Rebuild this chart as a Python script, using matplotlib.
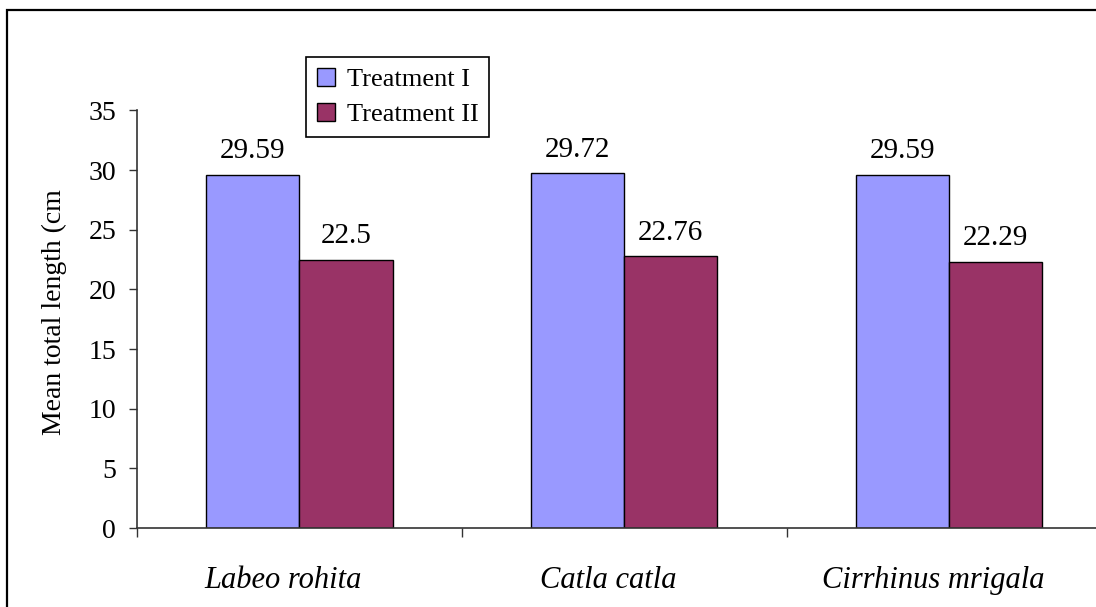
import matplotlib.pyplot as plt
import matplotlib.patches as patches
import matplotlib.transforms as mtransforms
import numpy as np

plt.rcParams['font.family'] = ['Liberation Serif', 'DejaVu Serif']

species = ['Labeo rohita', 'Catla catla', 'Cirrhinus mrigala']
treatment_1 = [29.59, 29.72, 29.59]
treatment_2 = [22.5, 22.76, 22.29]
value_text_1 = ['29.59', '29.72', '29.59']
value_text_2 = ['22.5', '22.76', '22.29']
y_ticks = [0, 5, 10, 15, 20, 25, 30, 35]

blue = '#9999FF'
maroon = '#993366'

fig = plt.figure(figsize=(10.96, 6.07), dpi=100)
# chart frame (runs off the right and bottom edges)
fig.patches.append(patches.Rectangle((7 / 1096, -0.2), 1.2, 1 - 10 / 607 + 0.2,
                                     transform=fig.transFigure, fill=False,
                                     edgecolor='black', linewidth=1.6))

ax = fig.add_axes([137 / 1096, 0.1301, 974.5 / 1096, 0.688])

x = np.arange(len(species))
w = 0.287
b1 = ax.bar(x - w / 2, treatment_1, w, color=blue, edgecolor='black',
            linewidth=1.0, label='Treatment I')
b2 = ax.bar(x + w / 2, treatment_2, w, color=maroon, edgecolor='black',
            linewidth=1.0, label='Treatment II')

for bars, texts in ((b1, value_text_1), (b2, value_text_2)):
    for rect, t in zip(bars, texts):
        ax.annotate(t, (rect.get_x() + rect.get_width() / 2, rect.get_height()),
                    xytext=(0, 12), textcoords='offset points',
                    ha='center', va='baseline', fontsize=21)

ax.set_xlim(-0.5, 2.5)
ax.set_ylim(0, 35)
ax.set_yticks(y_ticks)
ax.tick_params(axis='y', direction='out', length=6, width=1, labelsize=20,
               pad=9, color='#333333')
ax.set_xticks(np.arange(-0.5, len(species), 1))
ax.set_xticklabels([])
ax.tick_params(axis='x', direction='out', length=6.5, width=1, color='#333333')

for s in ('top', 'right'):
    ax.spines[s].set_visible(False)
for s in ('left', 'bottom'):
    ax.spines[s].set_color('#333333')
    ax.spines[s].set_linewidth(1.2)

# species names in italics under each group
trans = mtransforms.blended_transform_factory(ax.transData, ax.transAxes)
for i, name in enumerate(species):
    ax.text(i - 0.05, -0.143, name, transform=trans, ha='center',
            va='baseline', fontsize=22, fontstyle='italic')

fig.text(54 / 1096, 1 - 312 / 607, 'Mean total length (cm', rotation=90,
         ha='center', va='center', fontsize=20)

leg = fig.legend(loc='upper left', bbox_to_anchor=(306 / 1096, 1 - 57 / 607),
                 fontsize=19, frameon=True, fancybox=False, framealpha=1,
                 edgecolor='black', handlelength=0.7, handleheight=0.7,
                 handletextpad=0.45, labelspacing=0.45, borderpad=0.4,
                 borderaxespad=0)
leg.get_frame().set_linewidth(1.2)

fig.savefig('out.png', dpi=100)
